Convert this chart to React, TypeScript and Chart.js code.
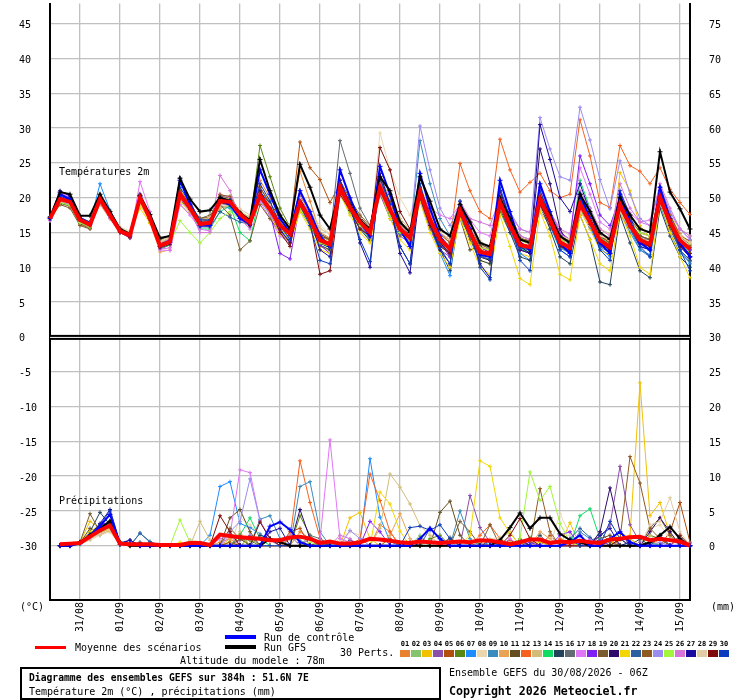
import React, { useEffect, useRef } from "react";
import { Chart, registerables } from "chart.js";

Chart.register(...registerables);

const FONT = "'DejaVu Sans Mono', monospace";
const GRID = "#c0c0c0";

// time steps (hours after 30/08/2026 06Z)
const hours = [0, 6, 12, 18, 24, 30, 36, 42, 48, 54, 60, 66, 72, 78, 84, 90, 96, 102, 108, 114, 120, 126, 132, 138, 144, 150, 156, 162, 168, 174, 180, 186, 192, 198, 204, 210, 216, 222, 228, 234, 240, 246, 252, 258, 264, 270, 276, 282, 288, 294, 300, 306, 312, 318, 324, 330, 336, 342, 348, 354, 360, 366, 372, 378, 384];
const dayLabels = ["31/08", "01/09", "02/09", "03/09", "04/09", "05/09", "06/09", "07/09", "08/09", "09/09", "10/09", "11/09", "12/09", "13/09", "14/09", "15/09"];
const tempTicks = [-30, -25, -20, -15, -10, -5, 0, 5, 10, 15, 20, 25, 30, 35, 40, 45];
const precipTicks = [0, 5, 10, 15, 20, 25, 30, 35, 40, 45, 50, 55, 60, 65, 70, 75];

const memberNames = ["01", "02", "03", "04", "05", "06", "07", "08", "09", "10", "11", "12", "13", "14", "15", "16", "17", "18", "19", "20", "21", "22", "23", "24", "25", "26", "27", "28", "29", "30"];
const memberColors = ["#e8822f", "#86c46b", "#f2c100", "#8a4fa8", "#b24e0c", "#5a8712", "#1c8cff", "#ead7ae", "#3a8bbd", "#e8a455", "#644d1e", "#f5621e", "#d2bd78", "#10dc64", "#22435a", "#626c72", "#e077f5", "#7f1ff5", "#7a5c2e", "#2e0b6b", "#f2d600", "#2a60a0", "#8e5a22", "#9b8cf0", "#a2f53a", "#d575d9", "#1a0aa0", "#e0cba5", "#800a0a", "#0a3cbe"];

// ---- Temperatures 2m (°C) ----
const tMean = [17.0, 19.8, 19.4, 16.8, 16.1, 19.8, 17.5, 15.2, 14.6, 20.0, 17.0, 13.1, 13.7, 20.5, 18.5, 16.2, 16.4, 19.5, 19.4, 17.6, 16.4, 20.3, 18.3, 16.0, 14.8, 19.3, 16.9, 13.9, 13.3, 21.5, 18.6, 16.5, 15.0, 21.5, 18.3, 15.5, 14.2, 20.8, 16.9, 14.0, 12.6, 18.2, 15.0, 12.2, 11.9, 19.3, 16.0, 13.2, 12.9, 19.8, 16.9, 13.6, 12.8, 19.1, 16.5, 13.9, 12.9, 19.0, 16.0, 13.9, 13.3, 20.0, 16.5, 13.9, 12.6];
const tCtrl = [17.0, 20.5, 19.8, 16.9, 16.2, 19.8, 17.5, 15.2, 14.5, 20.2, 17.0, 13.0, 13.6, 22.5, 19.0, 16.0, 16.0, 19.5, 19.0, 17.0, 16.2, 24.0, 20.5, 17.0, 15.0, 21.0, 18.0, 14.5, 13.0, 24.0, 20.0, 16.5, 14.5, 24.5, 20.5, 15.5, 13.0, 23.5, 18.5, 14.5, 12.5, 18.5, 15.5, 11.8, 11.5, 22.5, 18.0, 13.5, 12.5, 22.0, 18.0, 13.5, 12.0, 20.5, 17.0, 13.5, 12.0, 20.5, 16.5, 13.5, 12.5, 21.5, 17.0, 13.5, 11.5];
const tGfs = [17.2, 20.8, 20.5, 17.4, 17.4, 20.5, 18.0, 15.5, 14.8, 20.3, 17.6, 14.2, 14.5, 22.8, 19.8, 18.0, 18.2, 20.0, 19.5, 17.8, 16.8, 25.5, 21.0, 17.5, 15.5, 24.8, 21.5, 17.5, 15.5, 21.5, 19.0, 16.8, 15.5, 23.0, 21.0, 16.5, 15.0, 23.0, 19.5, 15.5, 14.5, 19.0, 16.5, 13.5, 13.0, 20.0, 17.0, 14.0, 13.5, 20.0, 17.5, 14.5, 13.5, 20.5, 18.0, 15.0, 14.0, 20.0, 17.5, 15.5, 15.0, 26.6, 20.8, 18.4, 15.5];
const t01 = [17.0, 20.2, 19.6, 16.9, 16.0, 19.5, 17.3, 15.0, 14.3, 19.8, 16.8, 12.9, 13.4, 21.0, 18.8, 16.0, 15.8, 19.8, 19.0, 17.2, 16.0, 22.5, 20.0, 17.5, 15.8, 23.8, 19.5, 15.0, 14.2, 22.0, 19.0, 16.8, 15.5, 22.8, 19.5, 16.0, 15.0, 21.5, 17.8, 14.5, 13.0, 19.0, 16.0, 13.0, 12.5, 20.5, 17.2, 14.0, 13.5, 21.0, 17.5, 14.2, 13.5, 20.0, 17.0, 14.5, 13.8, 19.5, 16.5, 14.2, 13.6, 21.0, 17.5, 14.8, 13.5];
const t02 = [16.8, 19.5, 19.0, 16.5, 15.9, 19.6, 17.2, 15.5, 14.9, 19.5, 16.5, 13.2, 13.9, 19.8, 18.0, 16.5, 16.8, 19.0, 19.2, 17.8, 16.8, 19.5, 17.8, 15.5, 14.0, 18.2, 16.0, 13.0, 12.4, 20.5, 17.8, 15.8, 14.5, 20.5, 17.5, 15.0, 13.8, 19.8, 16.0, 13.2, 11.8, 17.5, 14.5, 11.5, 11.2, 18.5, 15.4, 12.6, 12.2, 20.2, 17.4, 14.0, 13.0, 18.5, 16.0, 13.5, 12.4, 18.2, 15.5, 13.5, 12.8, 19.2, 16.0, 13.4, 12.0];
const t03 = [17.2, 20.0, 19.2, 16.6, 16.0, 19.2, 17.0, 15.3, 14.8, 19.0, 16.6, 13.5, 14.0, 21.2, 19.0, 16.8, 17.0, 20.5, 20.0, 18.0, 16.8, 21.0, 18.6, 15.8, 14.2, 20.0, 17.0, 13.0, 12.5, 22.5, 19.0, 16.0, 14.5, 22.0, 18.5, 15.0, 13.5, 21.5, 17.0, 13.5, 11.8, 18.0, 14.5, 11.0, 10.5, 19.0, 15.5, 12.0, 11.5, 20.5, 17.5, 13.0, 12.0, 18.2, 15.5, 12.5, 11.8, 23.6, 21.0, 16.0, 14.2, 20.5, 16.5, 13.2, 12.0];
const t04 = [16.9, 19.6, 19.3, 17.0, 16.3, 19.9, 17.6, 15.0, 14.4, 20.3, 17.2, 12.6, 13.2, 20.0, 18.3, 16.0, 16.2, 19.0, 19.6, 17.0, 15.8, 20.0, 17.5, 15.2, 13.8, 19.0, 16.5, 14.0, 13.0, 21.0, 18.0, 16.0, 14.8, 20.5, 17.0, 14.5, 13.5, 19.5, 15.5, 12.5, 11.5, 17.5, 14.8, 11.8, 11.0, 19.8, 16.5, 13.5, 13.0, 20.5, 17.8, 14.5, 13.2, 18.8, 16.0, 13.2, 12.2, 17.5, 15.5, 14.5, 13.8, 20.0, 16.0, 13.0, 11.5];
const t05 = [17.0, 19.4, 19.0, 16.2, 15.6, 20.4, 17.8, 15.2, 14.2, 20.5, 17.3, 13.0, 13.5, 20.8, 18.8, 16.6, 16.6, 19.8, 19.8, 18.0, 16.5, 21.5, 19.0, 16.8, 15.5, 28.0, 24.3, 22.6, 19.3, 22.0, 19.5, 17.0, 15.5, 21.0, 18.0, 15.0, 13.8, 20.0, 16.5, 13.8, 12.5, 18.8, 15.5, 12.8, 12.2, 20.0, 16.8, 13.5, 13.0, 19.0, 16.2, 13.0, 12.3, 19.5, 17.0, 14.2, 13.2, 20.0, 16.8, 14.0, 13.0, 21.0, 17.5, 14.5, 13.8];
const t06 = [17.1, 19.9, 19.5, 17.0, 16.2, 19.5, 17.4, 15.5, 14.8, 20.2, 16.9, 13.0, 13.6, 20.2, 18.2, 16.0, 16.0, 20.0, 19.2, 17.5, 16.5, 27.5, 23.0, 18.5, 15.8, 20.5, 17.5, 14.5, 13.8, 21.8, 18.5, 16.2, 14.8, 21.0, 18.0, 15.8, 14.5, 21.5, 17.5, 14.5, 13.0, 17.0, 14.5, 11.5, 11.0, 18.0, 15.0, 12.5, 12.2, 19.0, 16.0, 13.0, 12.5, 19.8, 17.0, 14.0, 13.5, 18.5, 16.3, 14.2, 13.7, 19.5, 16.0, 13.8, 12.8];
const t07 = [17.3, 20.5, 19.8, 17.0, 16.4, 22.0, 18.2, 15.6, 14.4, 19.6, 16.8, 13.4, 14.0, 20.6, 18.6, 16.0, 16.2, 18.8, 18.5, 17.0, 16.0, 20.8, 18.6, 16.2, 14.5, 19.0, 16.4, 13.5, 12.8, 22.5, 19.2, 16.5, 14.2, 22.5, 19.0, 15.8, 14.0, 20.5, 16.0, 12.0, 8.8, 18.5, 15.2, 12.0, 11.5, 19.0, 15.5, 12.0, 11.0, 19.5, 16.0, 12.5, 11.5, 18.5, 15.8, 12.8, 11.5, 19.2, 15.5, 12.5, 11.8, 20.5, 16.0, 12.5, 10.5];
const t08 = [16.7, 19.0, 18.8, 16.5, 15.8, 19.6, 17.8, 15.8, 15.2, 19.2, 16.5, 13.0, 13.2, 19.5, 18.0, 16.5, 17.0, 18.8, 19.0, 18.2, 17.0, 20.0, 18.8, 16.8, 15.5, 20.0, 18.0, 16.0, 14.8, 20.5, 18.0, 16.0, 14.2, 29.3, 24.0, 20.0, 17.5, 22.0, 18.0, 15.0, 13.8, 19.0, 16.5, 13.8, 13.0, 18.5, 16.0, 13.5, 13.2, 20.0, 18.0, 15.5, 14.5, 20.5, 18.2, 15.0, 14.2, 18.5, 16.0, 14.8, 14.5, 19.5, 16.8, 14.5, 13.5];
const t09 = [17.0, 20.0, 19.3, 16.7, 16.0, 19.8, 17.5, 15.4, 14.7, 20.0, 17.0, 13.2, 13.8, 20.5, 18.5, 16.4, 16.5, 19.6, 19.4, 17.8, 16.6, 20.5, 18.0, 15.8, 14.6, 19.5, 17.0, 14.0, 13.5, 21.5, 18.5, 16.0, 14.5, 21.8, 18.5, 15.5, 14.0, 28.2, 22.0, 17.0, 14.5, 19.5, 16.5, 13.5, 12.5, 19.5, 16.2, 13.0, 12.5, 18.5, 16.0, 12.8, 12.0, 19.5, 16.5, 13.5, 12.0, 18.0, 15.0, 12.5, 11.5, 19.0, 15.0, 12.0, 10.8];
const t10 = [16.9, 19.7, 19.2, 16.6, 15.8, 19.0, 17.0, 15.0, 14.5, 19.5, 16.4, 12.2, 12.5, 20.0, 18.0, 16.0, 16.4, 18.5, 18.8, 17.5, 16.2, 24.0, 20.5, 17.5, 15.5, 20.5, 17.5, 14.5, 13.8, 20.8, 18.0, 15.8, 14.3, 21.5, 18.0, 15.2, 14.0, 20.0, 16.5, 13.5, 12.0, 18.0, 15.5, 12.8, 12.4, 19.8, 16.5, 13.8, 13.4, 19.5, 16.5, 13.8, 13.0, 18.8, 16.5, 14.0, 13.0, 19.5, 16.0, 13.5, 13.0, 20.5, 16.8, 14.0, 13.0];
const t11 = [17.0, 19.2, 18.8, 16.3, 15.8, 20.2, 17.6, 15.0, 14.2, 20.4, 17.5, 14.0, 14.5, 20.8, 18.8, 16.8, 17.0, 20.2, 20.0, 17.5, 16.8, 20.8, 19.2, 17.2, 16.0, 18.5, 16.0, 14.5, 14.0, 22.0, 19.5, 17.2, 15.8, 22.0, 19.5, 16.5, 15.0, 21.0, 17.5, 14.5, 13.0, 17.0, 12.5, 13.0, 12.0, 20.5, 17.5, 14.5, 14.0, 20.0, 17.5, 14.5, 13.5, 19.2, 17.0, 14.5, 13.5, 19.0, 16.5, 14.5, 14.0, 20.0, 16.5, 14.0, 12.8];
const t12 = [17.1, 20.1, 19.6, 17.0, 16.3, 19.9, 17.7, 15.3, 14.7, 20.2, 17.2, 13.3, 13.9, 20.3, 18.4, 16.4, 16.6, 19.4, 19.5, 17.8, 16.6, 20.2, 18.2, 16.2, 15.0, 19.8, 17.2, 14.2, 13.5, 21.2, 18.8, 16.5, 15.2, 21.2, 18.0, 15.4, 14.5, 20.5, 17.5, 15.0, 13.8, 24.9, 21.0, 18.0, 17.0, 28.4, 24.0, 20.8, 22.2, 23.5, 21.0, 20.0, 20.5, 31.2, 26.0, 19.3, 18.6, 27.5, 24.6, 23.8, 22.0, 24.3, 21.2, 19.3, 17.6];
const t13 = [16.8, 19.4, 19.1, 16.8, 16.2, 19.3, 17.2, 15.6, 15.0, 19.8, 17.0, 13.8, 14.4, 19.0, 17.8, 16.5, 17.0, 18.5, 19.0, 18.0, 17.2, 19.8, 18.5, 16.5, 15.5, 21.0, 18.2, 15.5, 14.8, 21.0, 18.5, 16.8, 15.5, 23.0, 20.0, 17.0, 15.5, 21.0, 17.5, 14.8, 13.5, 18.5, 16.0, 13.5, 13.0, 19.0, 16.5, 14.0, 13.8, 18.0, 16.0, 14.0, 13.5, 19.0, 17.5, 15.5, 14.8, 18.5, 16.8, 15.5, 15.0, 19.5, 17.5, 15.5, 14.5];
const t14 = [17.0, 19.8, 19.2, 16.4, 15.8, 20.0, 17.8, 15.2, 14.6, 20.5, 17.4, 12.8, 13.2, 20.0, 18.0, 15.5, 15.5, 18.0, 18.8, 15.0, 13.8, 20.5, 18.0, 16.0, 14.8, 19.0, 16.5, 13.5, 12.8, 21.5, 18.2, 15.8, 14.0, 21.5, 18.0, 15.0, 13.5, 20.5, 16.5, 13.5, 11.8, 18.5, 15.0, 12.0, 11.5, 19.5, 16.0, 12.8, 12.0, 20.0, 17.0, 13.5, 12.2, 22.5, 18.5, 14.5, 13.0, 19.0, 16.0, 13.5, 12.5, 20.0, 16.5, 13.5, 12.0];
const t15 = [17.0, 19.6, 19.3, 16.8, 16.2, 19.6, 17.3, 15.3, 14.8, 19.8, 17.0, 13.5, 14.2, 20.2, 18.6, 17.0, 17.2, 19.2, 19.0, 17.8, 16.5, 20.0, 17.8, 15.0, 13.5, 18.8, 16.0, 13.2, 12.5, 21.0, 18.0, 15.5, 13.8, 21.5, 18.0, 15.0, 13.6, 20.0, 16.0, 12.5, 9.5, 17.8, 14.0, 11.0, 10.5, 18.5, 15.0, 11.5, 11.0, 19.0, 15.5, 11.5, 10.5, 17.5, 14.0, 7.9, 7.5, 17.5, 13.5, 9.5, 8.5, 18.5, 14.5, 11.5, 10.0];
const t16 = [17.1, 19.9, 19.5, 17.1, 16.4, 19.4, 17.2, 15.4, 14.9, 19.9, 17.1, 13.6, 14.1, 20.8, 18.8, 16.6, 16.8, 19.8, 19.5, 17.5, 16.3, 20.0, 17.8, 15.5, 14.2, 19.8, 17.5, 14.8, 14.0, 28.2, 23.5, 18.5, 16.0, 21.0, 17.8, 15.0, 13.8, 20.0, 16.5, 13.5, 12.5, 18.0, 15.0, 12.2, 11.8, 18.8, 15.8, 12.8, 12.5, 19.0, 16.5, 13.5, 12.8, 18.5, 16.2, 13.8, 12.8, 18.8, 16.0, 14.0, 13.5, 19.5, 16.0, 13.5, 12.5];
const t17 = [16.8, 20.8, 20.0, 17.0, 16.0, 20.0, 17.5, 15.0, 14.2, 22.3, 18.0, 12.5, 12.4, 19.0, 17.5, 15.5, 15.2, 20.5, 20.0, 17.8, 16.5, 19.5, 17.0, 14.5, 13.5, 20.5, 17.5, 14.0, 13.5, 22.5, 19.0, 17.0, 15.5, 22.0, 18.5, 15.5, 14.0, 21.0, 18.5, 17.5, 17.0, 19.0, 16.8, 15.0, 14.5, 20.5, 17.0, 14.5, 14.0, 21.0, 18.0, 15.5, 14.8, 24.3, 20.5, 16.5, 15.5, 20.5, 17.8, 16.5, 16.8, 21.5, 18.0, 15.5, 14.0];
const t18 = [16.9, 20.3, 19.6, 16.9, 16.0, 19.8, 17.4, 15.1, 14.5, 20.1, 17.1, 13.0, 13.6, 20.4, 18.5, 16.2, 16.3, 19.5, 19.3, 17.4, 16.2, 20.0, 17.8, 12.0, 11.2, 19.2, 16.5, 13.2, 12.0, 21.8, 18.8, 16.0, 14.2, 21.5, 18.0, 15.2, 13.5, 21.0, 16.8, 13.5, 11.5, 19.0, 16.0, 13.0, 12.0, 18.8, 15.5, 12.5, 12.0, 21.5, 18.0, 15.0, 14.0, 26.0, 22.0, 17.5, 16.0, 20.0, 16.5, 13.5, 13.0, 20.5, 16.8, 13.8, 12.5];
const t19 = [17.0, 19.0, 18.5, 16.0, 15.5, 19.7, 17.4, 15.5, 14.9, 19.7, 16.9, 13.1, 13.7, 19.8, 18.0, 17.0, 17.5, 19.0, 17.5, 12.5, 13.8, 19.0, 17.0, 15.0, 14.0, 19.0, 16.5, 13.8, 13.2, 21.0, 18.5, 16.5, 15.2, 21.2, 18.2, 15.8, 14.8, 20.5, 17.0, 14.2, 13.0, 18.2, 14.0, 11.5, 12.0, 19.5, 16.5, 14.0, 13.8, 19.2, 16.8, 14.0, 13.5, 18.5, 16.0, 13.5, 12.8, 19.0, 16.5, 14.5, 14.0, 19.5, 15.5, 12.5, 11.0];
const t20 = [17.0, 20.0, 19.5, 16.9, 16.2, 19.8, 17.5, 15.1, 14.5, 20.0, 17.0, 13.0, 13.6, 20.6, 18.6, 16.3, 16.5, 19.7, 19.5, 17.6, 16.4, 20.6, 18.5, 16.0, 14.5, 19.2, 16.8, 13.5, 12.8, 22.0, 18.8, 16.2, 14.5, 22.0, 18.5, 13.0, 10.5, 21.5, 17.0, 13.5, 12.0, 18.0, 14.8, 11.5, 11.0, 19.5, 16.0, 12.5, 12.0, 27.0, 22.0, 15.5, 13.0, 19.5, 16.5, 13.5, 12.5, 19.2, 16.0, 13.5, 13.0, 20.5, 16.5, 13.0, 11.5];
const t21 = [17.1, 19.6, 19.2, 16.6, 16.0, 19.2, 17.0, 15.4, 14.9, 18.5, 16.3, 13.5, 14.0, 19.5, 18.0, 16.0, 16.2, 19.8, 19.8, 17.8, 16.8, 20.2, 17.5, 14.8, 13.5, 18.0, 15.5, 12.5, 12.0, 20.5, 17.5, 15.0, 13.5, 21.0, 17.0, 14.0, 12.5, 19.5, 15.0, 12.0, 10.0, 17.0, 13.5, 10.0, 9.0, 17.5, 13.0, 8.4, 7.5, 18.0, 14.5, 9.0, 8.2, 17.5, 14.0, 10.5, 9.5, 18.0, 14.5, 10.0, 9.0, 19.5, 15.0, 11.5, 8.5];
const t22 = [17.0, 19.8, 19.4, 16.7, 16.1, 19.9, 17.6, 15.3, 14.7, 19.9, 17.0, 13.2, 13.8, 20.4, 18.3, 15.8, 15.8, 18.0, 17.2, 16.5, 16.2, 21.0, 18.8, 16.2, 15.0, 19.5, 17.0, 13.8, 13.0, 21.5, 18.5, 16.0, 14.8, 21.0, 17.5, 14.8, 13.8, 20.0, 16.0, 13.2, 12.0, 17.5, 14.5, 11.5, 11.2, 19.0, 15.8, 12.8, 12.5, 19.5, 16.5, 13.0, 12.0, 19.0, 16.0, 13.0, 12.0, 18.5, 15.5, 13.0, 12.5, 19.5, 16.0, 12.5, 11.0];
const t23 = [16.9, 19.7, 19.3, 16.7, 16.0, 20.1, 17.7, 15.2, 14.5, 20.3, 17.3, 13.4, 14.0, 21.0, 19.0, 17.0, 17.2, 20.4, 20.2, 18.0, 16.8, 21.5, 19.2, 16.5, 15.0, 20.2, 17.8, 14.8, 14.0, 22.5, 19.8, 17.5, 16.0, 22.5, 19.2, 16.2, 15.0, 21.5, 17.8, 14.8, 13.5, 19.2, 16.0, 13.2, 12.8, 20.2, 17.0, 14.2, 13.8, 20.5, 17.8, 14.5, 13.8, 20.0, 17.5, 14.5, 13.5, 20.0, 17.0, 15.0, 14.5, 21.0, 17.5, 14.5, 13.2];
const t24 = [16.8, 19.5, 19.0, 16.5, 16.0, 19.5, 17.2, 15.0, 14.5, 20.0, 17.0, 13.5, 14.0, 20.0, 18.0, 16.0, 16.2, 19.2, 19.0, 17.4, 16.3, 19.8, 17.5, 15.5, 14.2, 19.0, 16.5, 13.8, 13.0, 21.0, 18.0, 16.0, 14.5, 22.0, 19.0, 16.0, 14.5, 30.3, 24.0, 18.5, 16.0, 19.0, 16.0, 13.5, 13.0, 21.0, 18.0, 15.5, 15.0, 31.5, 27.0, 23.0, 22.5, 33.0, 28.3, 22.6, 18.4, 25.3, 20.5, 17.0, 16.0, 21.5, 18.0, 15.5, 14.0];
const t25 = [17.0, 19.3, 18.9, 16.4, 15.8, 19.6, 17.3, 15.4, 14.8, 19.6, 16.6, 13.0, 13.4, 16.7, 15.0, 13.5, 15.0, 17.0, 18.0, 17.0, 16.0, 20.0, 18.0, 15.5, 14.0, 18.5, 16.0, 13.5, 13.0, 21.0, 18.0, 16.0, 14.8, 21.0, 17.5, 15.0, 13.8, 20.5, 17.2, 14.5, 13.0, 18.5, 15.5, 12.8, 12.5, 19.0, 16.5, 13.8, 13.5, 19.5, 17.0, 14.0, 13.5, 18.5, 16.0, 13.5, 13.2, 18.5, 16.5, 15.0, 14.5, 19.8, 16.8, 14.5, 13.5];
const t26 = [16.7, 20.6, 19.8, 16.8, 16.0, 19.2, 17.0, 15.0, 14.4, 20.6, 17.5, 12.6, 12.8, 20.0, 18.2, 15.0, 15.0, 23.2, 21.0, 17.0, 15.5, 20.5, 17.8, 15.0, 13.8, 20.0, 17.2, 14.0, 13.5, 22.0, 19.0, 16.5, 15.0, 21.8, 18.5, 15.5, 14.0, 21.2, 17.5, 14.5, 13.0, 19.5, 17.0, 16.5, 16.0, 20.0, 17.5, 15.5, 15.0, 21.0, 18.0, 14.8, 14.0, 21.0, 18.5, 15.5, 14.5, 22.0, 18.5, 16.5, 16.0, 22.0, 18.5, 15.5, 14.5];
const t27 = [17.2, 21.0, 20.2, 17.2, 16.5, 20.0, 17.6, 15.2, 14.6, 20.4, 17.3, 13.2, 13.8, 22.8, 19.5, 16.5, 16.4, 20.0, 19.6, 17.4, 16.0, 21.0, 18.5, 15.5, 13.5, 20.0, 17.0, 12.5, 11.5, 22.5, 19.0, 13.5, 10.0, 23.5, 19.0, 12.0, 9.2, 21.0, 16.5, 12.5, 10.5, 19.0, 15.0, 10.5, 8.5, 21.0, 17.0, 13.0, 12.0, 30.5, 25.5, 20.0, 18.0, 22.0, 18.0, 14.0, 12.5, 20.0, 16.0, 13.0, 12.5, 21.0, 17.0, 13.5, 11.5];
const t28 = [16.9, 19.5, 19.2, 16.9, 16.3, 19.4, 17.6, 15.6, 15.0, 19.4, 16.8, 13.6, 14.2, 19.4, 18.0, 16.8, 17.2, 19.0, 19.4, 18.4, 17.5, 20.5, 19.0, 17.0, 16.0, 20.0, 18.0, 15.5, 14.8, 21.5, 19.0, 17.0, 15.8, 21.5, 18.8, 16.5, 15.5, 20.5, 17.5, 15.0, 14.0, 18.0, 15.8, 13.5, 13.0, 18.5, 16.0, 14.0, 13.5, 18.5, 16.5, 14.5, 14.0, 18.0, 16.0, 14.5, 14.0, 18.0, 15.5, 14.0, 13.8, 19.0, 16.5, 14.5, 13.5];
const t29 = [17.0, 19.7, 19.4, 16.8, 16.0, 20.0, 17.5, 15.0, 14.3, 19.7, 16.8, 12.8, 13.3, 20.3, 18.3, 16.0, 16.2, 19.3, 19.0, 17.2, 16.0, 20.8, 18.5, 15.0, 13.0, 19.5, 16.5, 9.0, 9.5, 20.5, 18.2, 15.5, 14.5, 27.2, 24.0, 18.0, 15.5, 20.0, 16.0, 13.0, 12.0, 18.0, 15.5, 12.5, 12.0, 19.5, 16.5, 13.5, 13.0, 19.0, 16.2, 13.0, 12.5, 18.8, 16.2, 13.5, 12.5, 18.5, 15.8, 13.5, 13.0, 19.5, 16.0, 13.0, 12.0];
const t30 = [17.0, 20.2, 19.7, 17.0, 16.2, 20.2, 17.8, 15.4, 14.6, 20.2, 17.2, 13.3, 13.9, 21.5, 19.2, 16.8, 16.8, 20.0, 19.7, 17.8, 16.4, 22.0, 19.5, 16.0, 14.0, 19.0, 16.0, 11.0, 10.5, 22.0, 19.0, 14.0, 10.8, 22.8, 19.0, 13.0, 10.5, 22.0, 17.0, 12.8, 10.5, 19.5, 15.5, 10.0, 8.2, 21.5, 17.0, 11.0, 9.5, 21.0, 17.5, 12.5, 11.5, 20.0, 16.5, 12.5, 11.0, 21.0, 17.5, 13.0, 11.5, 21.5, 17.0, 12.5, 9.5];

// ---- Précipitations (mm per 6h) ----
const pMean = [null, 0.2, 0.3, 0.4, 1.3, 2.2, 2.9, 0.3, 0.2, 0.2, 0.2, 0.1, 0.1, 0.1, 0.4, 0.4, 0.1, 1.6, 1.4, 1.2, 1.1, 1.0, 0.8, 0.8, 1.2, 1.3, 1.0, 0.4, 0.6, 0.3, 0.3, 0.5, 1.0, 0.9, 0.7, 0.5, 0.4, 0.6, 0.5, 0.4, 0.5, 0.6, 0.5, 0.8, 0.7, 0.5, 0.2, 0.5, 0.9, 0.9, 0.4, 0.6, 0.5, 0.7, 0.5, 0.4, 0.9, 1.0, 1.2, 1.3, 0.8, 1.0, 0.8, 0.6, 0];
const pCtrl = [null, 0, 0, 0.3, 1.3, 2.8, 4.5, 0.2, 0.3, 0, 0, 0, 0, 0, 0, 0, 0, 0, 0, 0, 0, 0, 2.8, 3.4, 2.3, 0.5, 0, 0, 0, 0, 0, 0, 0, 0, 0, 0, 0, 1, 2.5, 1, 0, 0, 0, 0, 0, 0, 0, 0, 0, 0, 0, 0, 0.5, 1.5, 0, 0, 1, 2, 0.5, 0, 0, 0, 0, 0, 0];
const pGfs = [null, 0, 0, 0.5, 1.5, 2.5, 3.5, 0.5, 0, 0, 0, 0, 0, 0, 0, 0, 0, 0, 0, 0, 0, 0, 1, 0.5, 0, 0, 0, 0, 0, 0, 0, 0, 0, 0, 0, 0, 0, 0, 0, 0, 0, 0, 0, 0, 0, 0.8, 2.6, 4.7, 2.5, 4, 4, 1.7, 0.8, 0.5, 0, 0, 0, 0, 0, 0, 0.5, 1.5, 2.7, 1, 0];
const p01 = [null, 0, 0, 0.5, 1.5, 2.5, 3, 0.2, 0, 0, 0, 0, 0, 0, 0, 0, 0, 0.5, 1, 1.5, 0.8, 0, 0, 0, 0, 2, 1, 0, 0, 0, 0, 0, 0, 3, 2, 0, 0, 0, 0, 0, 0, 0, 0, 0.5, 0, 0, 0, 0, 1, 0, 0, 0, 0, 0.5, 0, 0, 0, 0.8, 1, 0, 0, 1, 0, 0, 0];
const p02 = [null, 0, 0, 0.3, 1, 2.2, 3.2, 0.4, 0, 0, 0, 0, 0, 0, 0.8, 0, 0, 0, 0.6, 1.2, 0, 0, 0, 0, 1, 0.8, 0, 0, 0, 0, 0, 0, 0, 0, 0, 0, 0, 1.5, 0, 0, 0, 0, 0, 0, 0.8, 0, 0, 0, 1.2, 0.6, 0, 0, 0, 0, 0, 0, 0, 0, 0.5, 0, 0, 0, 1, 0, 0];
const p03 = [null, 0, 0, 0.5, 3.5, 2.5, 2, 0.3, 0, 0, 0, 0, 0, 0, 0, 0, 0, 0, 0.5, 0, 0, 0, 1, 0, 0, 0, 0, 0, 0, 0, 4, 4.8, 1, 0, 0, 0, 0, 0, 0, 0, 0, 0, 0, 0, 0, 0.5, 0, 0, 0, 0.5, 0, 0, 3.3, 0, 0, 0, 0, 1, 1.5, 23.4, 4.3, 6.2, 1.5, 0.5, 0];
const p04 = [null, 0, 0, 0.3, 1.2, 2.8, 3.5, 0.3, 0, 0, 0, 0, 0, 0, 0, 0, 0, 0, 0, 0.8, 1.5, 0, 0, 0, 0, 0, 1, 0.5, 0, 0, 0, 0, 0, 0, 0, 0, 0, 0, 0, 0, 0, 0, 7.2, 2.6, 0.5, 0, 0, 0, 0, 0, 0, 0, 0, 0, 0.8, 1.2, 3, 11.4, 3, 0.5, 0, 0, 1, 0, 0];
const p05 = [null, 0, 0, 0.4, 1.5, 2, 2.8, 0.2, 0, 0, 0, 0, 0, 0, 0, 0, 0, 0, 0.5, 0, 0, 0, 0, 0, 2, 2.5, 0, 0, 0, 0, 0, 0, 0, 0, 1, 0, 0, 0, 0, 0, 0, 0, 0, 0, 0, 0, 0.8, 0, 0, 0, 1.5, 0, 0, 0, 0, 0, 0, 0, 0, 0, 0, 0, 2, 6.2, 0.5];
const p06 = [null, 0, 0, 0.3, 1, 2, 3, 0.2, 0, 0, 0, 0, 0, 0, 0, 0, 0, 0, 0, 1, 0.8, 0, 0, 0, 0, 4.3, 1.5, 0, 0, 0, 0, 0, 0, 0, 0, 0, 0, 0, 1, 1.5, 0, 0, 0, 0, 0, 0, 0, 0.5, 0, 0, 0, 0, 0.8, 0, 0, 0, 0, 0, 0, 0, 1.5, 1, 0, 0, 0];
const p07 = [null, 0, 0, 0.5, 1.8, 1.5, 2.5, 0.3, 0, 0, 0, 0, 0, 0, 0, 0, 1.5, 8.5, 9.2, 3.2, 2.6, 1.7, 0.8, 0, 0, 0, 0, 0, 0, 0, 0, 0.3, 12.5, 4.1, 0.6, 0, 0, 0, 0, 0, 0, 0, 0, 0, 0.5, 0, 0, 0, 0, 0, 0, 0, 0.8, 0, 0, 0, 0, 0, 0, 0, 0.5, 0, 0, 0, 0];
const p08 = [null, 0, 0, 0.2, 0.8, 1.5, 2, 0.3, 0, 0, 0, 0, 0, 0, 0, 0, 0, 0, 0, 4, 3, 1.5, 0, 0, 0, 0, 0, 0, 0, 1, 2, 1.5, 0, 0, 0, 0, 0, 0, 0, 0, 0, 0, 0, 0, 0, 0, 0, 0, 0, 0, 0, 4.6, 1.5, 0, 0, 1, 0, 0, 0, 0, 2.5, 3, 1, 0, 0];
const p09 = [null, 0, 0, 0.4, 1.4, 2.4, 2.6, 0.5, 0, 1.8, 0.5, 0, 0, 0, 0, 0, 0, 0, 0, 0, 0, 3.8, 4.3, 1, 0, 8.5, 9.2, 2, 0, 0, 0, 0, 0, 0, 0, 0, 0, 0, 0, 0, 0, 5, 1, 0, 0, 0, 0, 0, 0, 0, 0, 0, 0, 2, 1, 0, 0, 0, 0, 0, 0, 0, 0, 0, 0];
const p10 = [null, 0, 0, 0.3, 1, 1.8, 2.4, 0.2, 0, 0, 0, 0, 0, 0, 0, 0, 0, 0, 1, 0, 0, 0, 0, 0, 0, 0, 0, 0, 0, 0, 0, 0, 0, 0, 1.5, 4.6, 1, 0, 0, 0, 0, 0, 0, 0, 0, 0, 0, 0, 0, 2, 1, 0, 0, 0, 0, 0, 0.8, 0, 0, 0, 0, 0, 0, 0, 0];
const p11 = [null, 0, 0, 0.4, 2.5, 2, 3.5, 0.4, 0, 0, 0, 0, 0, 0, 0, 0, 0, 0, 4, 5.2, 2, 0, 0, 0, 0, 0, 0, 0, 0, 0, 0, 0, 0, 0, 0, 0, 0, 0, 0, 4.8, 6.4, 1.5, 0, 0, 0, 0, 0, 0.8, 0, 0, 0, 0, 0, 0, 0, 1, 1.5, 0, 0, 0, 0, 0, 0, 0, 0];
const p12 = [null, 0, 0, 0.3, 1.1, 2.1, 2.9, 0.3, 0, 0, 0, 0, 0, 0, 0, 0, 0, 0, 0, 0, 1, 0, 0, 0, 1, 12.2, 6.2, 1.1, 0, 0, 0, 1, 10.3, 6.5, 2, 0, 0, 0, 0, 0, 0, 0, 0, 1.5, 3, 1, 0, 0, 0, 0, 0, 1, 0, 0, 0, 0, 0.5, 0, 0, 0, 0, 0, 0, 0, 0];
const p13 = [null, 0, 0, 0.3, 1.2, 1.6, 2.2, 0.3, 0, 0, 0, 0, 0, 0, 0, 3.5, 0.8, 0, 0, 2, 0, 0, 0, 0, 0, 0, 0, 0, 0, 0, 0, 0, 0, 2.5, 10.3, 8.4, 6, 2.9, 1.5, 0, 0, 0, 0, 0, 0, 1, 2, 0, 0, 0, 0, 0, 0, 0, 0, 0, 0, 0, 0, 0, 1.5, 0, 0, 0, 0];
const p14 = [null, 0, 0, 0.3, 1.3, 2.2, 2.7, 0.3, 0, 0, 0, 0, 0, 0, 0, 0, 0, 0, 0, 1.5, 4, 1, 0, 0, 0, 0, 0, 0, 0.5, 0, 0, 0, 0, 0, 0, 0, 0, 1, 0, 0, 0, 0, 0, 0, 0, 0, 0, 0, 0, 0, 0, 0, 0, 4.3, 5.3, 1, 0, 0, 0, 0, 0.5, 0, 0, 0, 0];
const p15 = [null, 0, 0, 0.5, 2, 4.8, 3, 0.2, 0, 0.5, 0, 0, 0, 0, 0, 0, 0, 0, 0, 0, 0, 1.5, 1, 0, 0, 0, 0, 0, 0, 0, 0.8, 0, 0, 0, 0, 0, 0, 0, 0, 0, 0, 0, 0, 0, 0, 0, 0, 0, 0, 1.5, 0, 0, 0, 0, 0, 0, 0, 0, 0, 1, 0, 0, 0, 0, 0];
const p16 = [null, 0, 0, 0.3, 1.4, 2.3, 2.8, 0.2, 0, 0, 0, 0, 0, 0, 0, 0, 0, 0, 0, 1, 0, 0, 0, 0, 0, 0, 1.5, 1, 0, 0, 0, 0, 0, 0, 0, 0, 0, 0, 0, 0, 1.2, 0, 0, 0, 0, 0, 0, 0, 0, 0, 0, 0, 0, 0, 0, 2, 0.5, 0, 0, 0, 0, 0, 0, 0, 0];
const p17 = [null, 0, 0, 0.3, 1.2, 2.6, 3.1, 0.4, 0, 0, 0, 0, 0, 0, 0, 0, 0, 0, 1.5, 10.9, 10.5, 3.6, 1, 0, 0, 0, 0, 0.8, 15.2, 1, 0.5, 0, 0, 0, 0, 0, 0, 0, 0, 0, 0, 0, 0, 0, 0, 0, 1, 0, 0, 0, 0, 0, 0, 0, 1, 0, 0, 0, 0, 0, 0, 0, 0, 0, 0.3];
const p18 = [null, 0, 0, 0.4, 1.5, 3, 3.4, 0.3, 0, 0, 0, 0, 0, 0, 0, 0, 0, 0, 0, 0, 1, 0, 0, 0, 1.5, 0, 0, 0, 0, 0, 0, 0, 3.5, 2, 0, 0, 0, 0, 0, 0, 0, 0, 0, 0, 0, 0, 0, 0, 0.5, 0, 0, 1.5, 2, 0, 0, 0.8, 0, 0, 0, 0, 0, 0, 0, 0, 0];
const p19 = [null, 0, 0, 0.5, 4.6, 2, 3.6, 0.3, 0, 0, 0, 0, 0, 0, 0, 0, 0, 0, 2.5, 1, 0, 0, 0, 0, 0, 0, 0, 0, 0, 0, 0, 0, 0, 0, 0, 0, 0, 0, 0, 0, 0, 3.5, 2, 0, 3, 0, 0, 0, 0, 0, 0, 0, 0, 0, 0, 0, 0, 0, 0, 0, 2.5, 4, 1.5, 0, 0];
const p20 = [null, 0, 0, 0.3, 1, 2.8, 3, 0.2, 0.8, 0, 0, 0, 0, 0, 0, 0, 0, 0, 0, 0, 0, 0, 0, 0, 0, 5.2, 1, 0, 0, 0, 0, 0, 0, 0, 0, 0, 0, 0, 0, 0, 0, 0, 0, 0, 0.8, 0, 0, 1, 0, 0, 0, 0, 0, 0, 0, 2, 8.3, 2, 0, 0, 2, 4, 2, 0, 0];
const p21 = [null, 0, 0, 0.4, 2, 3, 2.5, 0.3, 0, 0, 0, 0, 0, 0.5, 0, 0, 0, 0, 0, 0, 0, 0, 0, 0, 0, 0, 0, 0, 0, 0, 0, 0, 0, 7.7, 6, 2.1, 0, 0, 0, 0, 0, 0, 1.5, 12.2, 11.4, 4, 1.8, 0, 1, 0, 0, 0, 0, 0, 0, 0, 0, 2, 1, 0, 0, 0, 0, 0, 0];
const p22 = [null, 0, 0, 0.4, 1.3, 2.4, 3, 0.3, 0, 1.8, 0.6, 0, 0, 0, 0, 0, 0, 0, 0, 0, 0, 0, 1, 0, 0, 0, 0, 0, 0, 0, 0, 0, 0, 0, 0, 0, 0, 0, 2.5, 1, 0, 0, 0, 0, 0, 0, 0, 0, 0, 0, 0, 0, 1, 2.5, 1.2, 0, 0, 0, 0, 0, 0, 0, 0, 0, 0];
const p23 = [null, 0, 0, 0.3, 1.2, 2, 2.9, 0.4, 0, 0, 0, 0, 0, 0, 0, 0, 0, 0, 0, 1.5, 0, 0, 0, 0, 0, 0, 0, 0.6, 0, 0, 0, 0, 0, 0, 0, 0, 0, 0, 0, 0, 1, 0, 0, 0, 0, 0, 0, 0, 0, 8.2, 2, 0, 0, 0, 0, 0, 0, 1, 12.8, 9, 2.5, 1, 0, 0, 0];
const p24 = [null, 0, 0, 0.3, 1.5, 2.5, 3.2, 0.3, 0, 0, 0, 0, 0, 0, 0, 0, 0, 0, 2, 3.5, 9.6, 3.6, 0.8, 0, 0, 0, 0, 0, 0, 0, 2.2, 1, 0, 0, 0, 0, 0, 0, 0, 0, 0, 0, 0, 0, 0, 0.8, 0, 0, 0, 0, 0, 0, 0, 0, 0, 0, 0, 0, 0, 0, 0, 0.5, 0, 0, 0];
const p25 = [null, 0, 0, 0.2, 1, 2, 2.4, 0.3, 0, 0, 0, 0, 0, 3.7, 0.5, 0, 0, 0, 0, 0, 1, 0, 0, 0, 0, 0, 0.5, 0, 0, 0, 0, 0, 0, 0, 0, 0, 0, 0, 0, 0, 0, 0, 0, 0, 0, 0, 0, 1, 10.6, 6.5, 8.5, 3.2, 0.5, 0, 0, 0, 0, 0, 0, 0, 0, 1.5, 0, 0, 0];
const p26 = [null, 0, 0, 0.4, 1.4, 2.6, 3, 0.3, 0, 0, 0, 0, 0, 0, 0, 0, 0, 1, 1.5, 0, 0, 0, 0, 0, 0, 0, 0, 0, 0, 1.5, 1, 0, 0, 0, 0, 0, 0, 0, 0, 0, 0, 0, 0, 0, 0, 0, 0, 0, 0, 0, 0, 0, 0, 0, 0, 0, 0, 0, 0, 0, 0, 0, 0, 1, 0];
const p27 = [null, 0, 0, 0.5, 1.6, 3.2, 5.2, 0.4, 0.8, 0, 0, 0, 0, 0, 0, 0, 0, 0, 0, 0, 0, 0, 2, 2.5, 0, 0, 0, 0, 0, 0, 0, 0, 0, 0, 0, 0, 0.5, 0, 0, 0, 0, 0, 0, 0, 0, 0, 0, 0, 0, 0, 0, 0, 0, 0, 0, 1.5, 2.5, 0, 0.5, 0, 0, 1.5, 0, 0, 0];
const p28 = [null, 0, 0, 0.3, 0.9, 1.7, 2.3, 0.2, 0, 0, 0, 0, 0, 0, 0.8, 0.6, 0, 0, 0, 0, 0, 0, 0, 0, 1.5, 0, 0, 0, 0, 0, 0, 0, 0, 0, 0, 0, 0, 0, 0, 0, 0, 0, 0, 0, 1, 1.2, 0, 0, 0, 0, 0, 0, 0, 0, 0, 0, 0, 0, 0, 0, 3, 3.5, 6.9, 2, 0];
const p29 = [null, 0, 0, 0.4, 1.3, 2.5, 3.4, 0.3, 0, 0, 0, 0, 0, 0, 0, 0, 0, 4.3, 2, 0, 0, 3.4, 1, 0, 0, 0, 0, 0, 0, 0, 0, 0, 0, 0, 0, 0, 0, 0, 0, 0, 0, 0, 0, 0, 0, 0, 1.5, 3.9, 1, 0, 0, 0, 0, 0, 0, 0, 0, 1, 0, 0, 0, 0, 0, 1.5, 0];
const p30 = [null, 0, 0, 0.4, 1.6, 3, 5, 0.4, 0.2, 0, 0, 0, 0, 0, 0, 0, 0, 0, 0, 0, 0, 0, 0, 0, 0, 0, 0, 0, 0, 0, 0, 0, 0, 0, 0, 0, 2.6, 2.8, 2.2, 3, 1, 0, 0, 0, 0, 0, 0, 0, 0, 0, 0, 0, 1, 0, 0, 0, 3.5, 1, 0, 0, 0, 0, 0, 0, 0];

const tempMembers = [t01, t02, t03, t04, t05, t06, t07, t08, t09, t10, t11, t12, t13, t14, t15, t16, t17, t18, t19, t20, t21, t22, t23, t24, t25, t26, t27, t28, t29, t30];
const precipMembers = [p01, p02, p03, p04, p05, p06, p07, p08, p09, p10, p11, p12, p13, p14, p15, p16, p17, p18, p19, p20, p21, p22, p23, p24, p25, p26, p27, p28, p29, p30];

const isDayTick = (i: number) => hours[i] % 24 === 18;

const separatorPlugin = {
  id: "panelSeparator",
  afterDatasetsDraw(chart: any) {
    const { ctx, chartArea, scales } = chart;
    const y0 = scales.y.getPixelForValue(0);
    const w = chartArea.right - chartArea.left;
    ctx.save();
    ctx.fillStyle = "#ffffff";
    ctx.fillRect(chartArea.left, y0 - 0.5, w, 1.5);
    ctx.fillStyle = "#000000";
    ctx.fillRect(chartArea.left, y0 - 2, w, 2);
    ctx.fillRect(chartArea.left, y0 + 1, w, 2);
    ctx.restore();
  },
};

function lineSet(label: string, data: (number | null)[], axis: string, color: string, width: number, radius: number) {
  return {
    label,
    data,
    yAxisID: axis,
    borderColor: color,
    backgroundColor: color,
    borderWidth: width,
    pointStyle: "cross",
    pointRadius: radius,
    pointBorderColor: color,
    pointBorderWidth: 1,
    pointHoverRadius: 0,
    fill: false,
    tension: 0,
    spanGaps: false,
  };
}

const txt = (left: number, top: number, size: number, bold = false): React.CSSProperties => ({
  position: "absolute",
  left,
  top,
  fontFamily: FONT,
  fontSize: size,
  lineHeight: "12px",
  fontWeight: bold ? "bold" : "normal",
  whiteSpace: "pre",
  color: "#000",
});

export default function App() {
  const ref = useRef<HTMLCanvasElement>(null);

  useEffect(() => {
    const canvas = ref.current;
    if (!canvas) return;
    // lower index = drawn on top
    const datasets: any[] = [];
    datasets.push(lineSet("Moyenne des scénarios", tMean, "y", "#ff0000", 4, 0));
    datasets.push(lineSet("Moyenne des scénarios (mm)", pMean, "y2", "#ff0000", 4, 0));
    datasets.push(lineSet("Run de contrôle (mm)", pCtrl, "y2", "#0000ff", 2, 2.5));
    datasets.push(lineSet("Run GFS (mm)", pGfs, "y2", "#000000", 2, 2.5));
    datasets.push(lineSet("Run GFS", tGfs, "y", "#000000", 2, 2.5));
    datasets.push(lineSet("Run de contrôle", tCtrl, "y", "#0000ff", 2, 2.5));
    for (let k = memberNames.length - 1; k >= 0; k--) {
      datasets.push(lineSet("Pert " + memberNames[k], tempMembers[k], "y", memberColors[k], 1, 2));
      datasets.push(lineSet("Pert " + memberNames[k] + " (mm)", precipMembers[k], "y2", memberColors[k], 1, 2));
    }

    const tickFont = { family: FONT, size: 10 };
    const chart = new Chart(canvas, {
      type: "line",
      data: { labels: hours, datasets },
      plugins: [separatorPlugin],
      options: {
        animation: false,
        responsive: false,
        events: [],
        layout: { padding: { left: 19, right: 0, top: 0, bottom: 0 } },
        plugins: { legend: { display: false }, tooltip: { enabled: false }, title: { display: false } },
        scales: {
          x: {
            type: "category",
            offset: false,
            grid: {
              color: (c: any) => (isDayTick(c.index) ? GRID : "rgba(0,0,0,0)"),
              lineWidth: 1.3,
              drawTicks: false,
              tickLength: 0,
            },
            border: { display: true, color: "#000", width: 2 },
            ticks: {
              autoSkip: false,
              minRotation: 90,
              maxRotation: 90,
              padding: 2,
              color: "#000",
              font: { family: FONT, size: 10, lineHeight: 1.4 },
              callback: (_v: any, i: number) => (isDayTick(i) ? dayLabels[(i - 3) / 4] : ""),
            },
            afterFit: (s: any) => {
              s.height = 36;
              s.paddingLeft = 0;
              s.paddingRight = 0;
            },
          },
          y: {
            type: "linear",
            position: "left",
            min: -37.8,
            max: 47.9,
            afterBuildTicks: (s: any) => {
              s.ticks = tempTicks.map((v) => ({ value: v }));
            },
            grid: { color: GRID, lineWidth: 1.3, drawTicks: false, tickLength: 0 },
            border: { display: true, color: "#000", width: 2 },
            ticks: { autoSkip: false, crossAlign: "far", padding: 0, labelOffset: 2, color: "#000", font: tickFont },
            afterFit: (s: any) => {
              s.width = 31;
              s.paddingTop = 0;
              s.paddingBottom = 0;
            },
          },
          y2: {
            type: "linear",
            position: "right",
            min: -7.8,
            max: 77.9,
            afterBuildTicks: (s: any) => {
              s.ticks = precipTicks.map((v) => ({ value: v }));
            },
            grid: { display: false, drawTicks: false, tickLength: 0 },
            border: { display: true, color: "#000", width: 2 },
            ticks: { autoSkip: false, crossAlign: "near", padding: 19, labelOffset: 2, color: "#000", font: tickFont },
            afterFit: (s: any) => {
              s.width = 50;
              s.paddingTop = 0;
              s.paddingBottom = 0;
            },
          },
        },
      } as any,
    });
    return () => chart.destroy();
  }, []);

  return (
    <div style={{ position: "absolute", left: 0, top: 0, width: 740, height: 700, background: "#fff", overflow: "hidden" }}>
      <canvas ref={ref} width={740} height={636} style={{ position: "absolute", left: 0, top: 0, width: 740, height: 636 }} />
      <div style={txt(59, 166, 10)}>Températures 2m</div>
      <div style={txt(59, 494.5, 10)}>Précipitations</div>
      <div style={txt(20, 600.5, 10)}>(°C)</div>
      <div style={txt(711, 600.5, 10)}>(mm)</div>

      <div style={{ position: "absolute", left: 35, top: 645.5, width: 31, height: 3.5, background: "#ff0000" }} />
      <div style={txt(75, 641.5, 10)}>Moyenne des scénarios</div>
      <div style={{ position: "absolute", left: 225, top: 635, width: 31, height: 3.7, background: "#0000ff" }} />
      <div style={txt(264, 632, 10)}>Run de contrôle</div>
      <div style={{ position: "absolute", left: 225, top: 645, width: 31, height: 3.7, background: "#000000" }} />
      <div style={txt(264, 641.5, 10)}>Run GFS</div>
      <div style={txt(340, 646.5, 10)}>30 Perts.</div>
      <div style={txt(180, 654.5, 10)}>Altitude du modele : 78m</div>

      {memberNames.map((n, k) => (
        <React.Fragment key={n}>
          <div
            style={{
              position: "absolute",
              left: 400 + 11 * k - 1,
              top: 640,
              width: 12,
              textAlign: "center",
              fontFamily: FONT,
              fontSize: 7,
              fontWeight: "bold",
              lineHeight: "8px",
              color: "#000",
            }}
          >
            {n}
          </div>
          <div style={{ position: "absolute", left: 400 + 11 * k, top: 650, width: 10, height: 7, background: memberColors[k] }} />
        </React.Fragment>
      ))}

      <div style={{ position: "absolute", left: 20, top: 667, width: 421, height: 33, border: "2px solid #000", boxSizing: "border-box" }} />
      <div style={txt(29, 671.5, 9.7, true)}>Diagramme des ensembles GEFS sur 384h : 51.6N 7E</div>
      <div style={txt(29, 685.5, 10)}>Température 2m (°C) , précipitations (mm)</div>
      <div style={txt(449, 666.5, 10)}>Ensemble GEFS du 30/08/2026 - 06Z</div>
      <div style={{ ...txt(449, 683.5, 11.6, true), lineHeight: "14px" }}>Copyright 2026 Meteociel.fr</div>
    </div>
  );
}
